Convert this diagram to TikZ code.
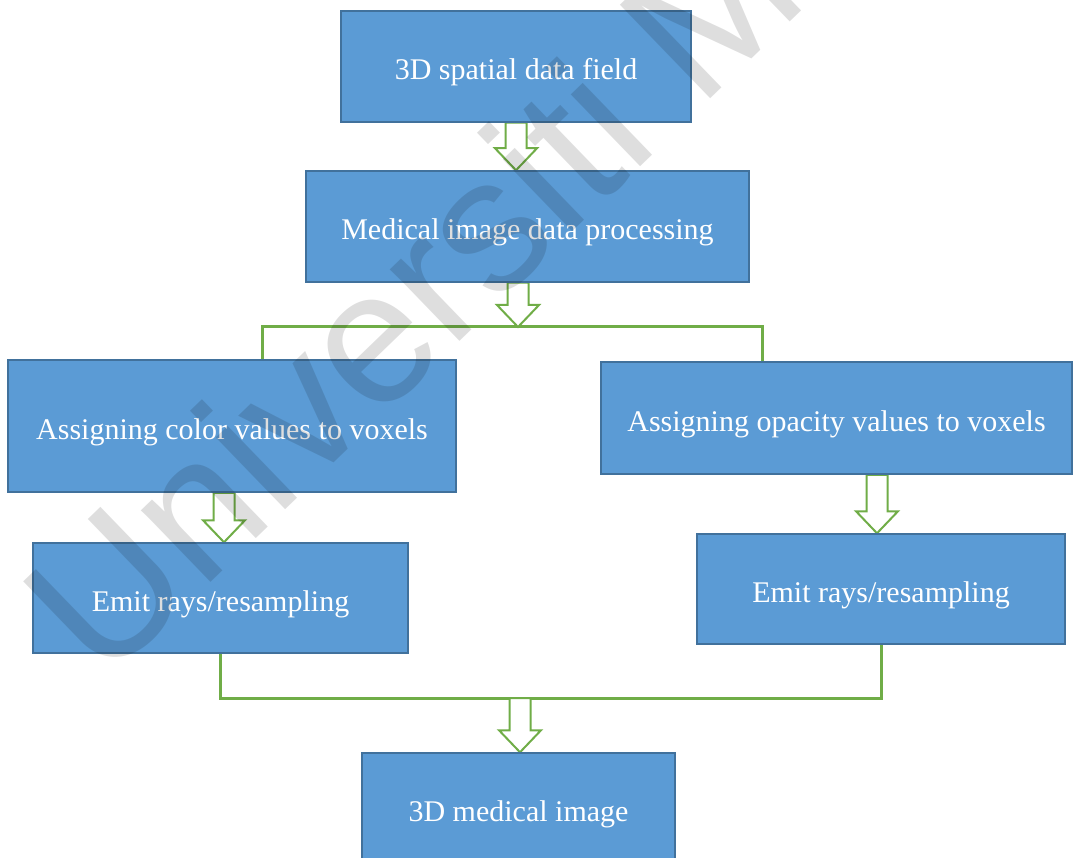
\documentclass[tikz,border=0pt]{standalone}
\usepackage{fontspec}
\setmainfont{Liberation Serif}
\newfontfamily\wmfont{Liberation Sans}
\usetikzlibrary{calc}
\pgfdeclarelayer{background}
\pgfdeclarelayer{foreground}
\pgfsetlayers{background,main,foreground}

\definecolor{boxfill}{HTML}{5B9BD5}
\definecolor{boxline}{HTML}{41719C}
\definecolor{linkgreen}{HTML}{70AD47}

\tikzset{
  stage/.style={draw=boxline, line width=1.5pt, fill=boxfill, text=white,
    font=\fontsize{30}{36}\selectfont, inner sep=0pt, rectangle,
    text height=30pt, text depth=4pt},
  link/.style={draw=linkgreen, line width=3pt},
  hollowarrow/.style={draw=linkgreen, line width=2pt, fill=white, line join=miter},
}

% hollow block arrow pointing down: shaft starts at the height of #1,
% tip sits at #2
\newcommand\blockdown[2]{%
  \draw[hollowarrow] let \p1=(#1), \p2=(#2) in
    (\x2-10.5pt,\y1) -- (\x2-10.5pt,\y2+22pt) -- (\x2-21pt,\y2+22pt) --
    (\x2,\y2) -- (\x2+21pt,\y2+22pt) -- (\x2+10.5pt,\y2+22pt) --
    (\x2+10.5pt,\y1) -- cycle;}

\begin{document}
\begin{tikzpicture}[x=1pt, y=-1pt]
  \useasboundingbox (0,0) rectangle (1073,858);
  \clip (0,0) rectangle (1073,858);

  % process stages
  \node[stage, minimum width=350pt, minimum height=111pt] (b1) at (516,66.5) {3D spatial data field};
  \node[stage, minimum width=443pt, minimum height=111pt] (b2) at (527.5,226.5) {Medical image data processing};
  \node[stage, minimum width=448pt, minimum height=132pt] (b3) at (232,426) {Assigning color values to voxels};
  \node[stage, minimum width=471pt, minimum height=112pt] (b4) at (836.5,418) {Assigning opacity values to voxels};
  \node[stage, minimum width=375pt, minimum height=110pt] (b5) at (220.5,598) {Emit rays/resampling};
  \node[stage, minimum width=368pt, minimum height=110pt] (b6) at (881,589) {Emit rays/resampling};
  \node[stage, minimum width=313pt, minimum height=111pt] (b7) at (518.5,808.5) {3D medical image};

  % junctions of the split and merge lines
  \coordinate (jt) at (518,327);
  \coordinate (jb) at (520,698);

  \begin{pgfonlayer}{background}
    \fill[white] (0,0) rectangle (1073,858);
    % split after processing
    \draw[link] ([xshift=30pt]b3.north) |- (jt) -| ([xshift=-74.5pt]b4.north);
    % merge before the final image
    \draw[link] (b5.south) |- (jb) -| (b6.south);
    % block arrows
    \blockdown{b1.south}{b1.south |- b2.north}
    \blockdown{jt |- b2.south}{jt}
    \blockdown{b3.south}{[xshift=3.5pt]b5.north}
    \blockdown{b4.south}{[xshift=-4pt]b6.north}
    \blockdown{jb}{b7.north -| jb}
  \end{pgfonlayer}

  % repository watermark
  \begin{pgfonlayer}{foreground}
    \node[anchor=base west, rotate=44, inner sep=0pt, text=black, text opacity=0.13,
      font=\wmfont\fontsize{189}{200}\selectfont] (wm) at (103,686) {Universiti Malaya};
  \end{pgfonlayer}
\end{tikzpicture}
\end{document}
